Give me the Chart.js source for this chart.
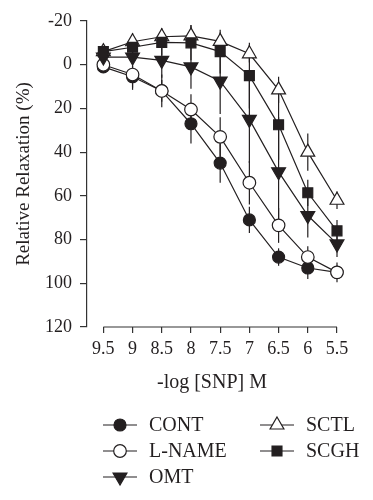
<!DOCTYPE html>
<html>
<head>
<meta charset="utf-8">
<script src="https://cdn.jsdelivr.net/npm/chart.js@4.4.0/dist/chart.umd.min.js"></script>
<style>
  html, body { margin: 0; padding: 0; background: #fff; }
  #wrap { width: 373px; height: 500px; }
</style>
</head>
<body>
<div id="wrap"><canvas id="relaxChart" width="373" height="500"></canvas></div>
<script>
// --- Data ---
const logSNP = [9.5, 9, 8.5, 8, 7.5, 7, 6.5, 6, 5.5];
const yTicks = [-20, 0, 20, 40, 60, 80, 100, 120];

const cont     = [1, 5.5, 12, 27, 45, 71, 88, 93, 95];
const contErr  = [1.5, 5, 5, 9, 9, 6, 4, 5, 3];
const lname    = [0, 4.5, 12, 20.5, 33, 54, 73.5, 88, 95];
const lnameErr = [2, 7, 7.5, 7, 9, 10, 8, 5, 4.5];
const omt      = [-3.5, -3.5, -2, 1, 7.5, 25, 49, 69, 82];
const omtErr   = [2, 3, 8, 10, 15, 20, 25, 10, 6];
const sctl     = [-6, -10.5, -12.8, -13.2, -10.7, -5, 11.5, 40, 62];
const sctlErr  = [2, 4, 4, 5, 4, 4, 6, 8.5, 4];
const scgh     = [-6, -8, -10.2, -10, -6, 5, 27.5, 58.6, 76];
const scghErr  = [2, 3, 6, 8, 10, 15, 16, 6, 5];

const INK = '#231f20';
const FONT = 'Liberation Serif, Times New Roman, serif';

function mkSet(label, vals, errs, style, order) {
    return Object.assign({
        label, order, errs,
        data: logSNP.map((x, i) => ({ x, y: vals[i] })),
        borderColor: INK, borderWidth: 1.2, tension: 0, clip: false,
        pointBorderColor: INK, pointBorderWidth: 1.2
    }, style);
}

const datasets = [
    mkSet('CONT', cont, contErr, { pointStyle: 'circle', pointRadius: 6, pointBackgroundColor: INK }, 4),
    mkSet('L-NAME', lname, lnameErr, { pointStyle: 'circle', pointRadius: 6.3, pointBackgroundColor: '#fff' }, 3),
    mkSet('OMT', omt, omtErr, { pointStyle: 'triangle', pointRotation: 180, pointRadius: 8, pointBackgroundColor: INK }, 2),
    mkSet('SCTL', sctl, sctlErr, { pointStyle: 'triangle', pointRadius: 8, pointBackgroundColor: '#fff' }, 1),
    mkSet('SCGH', scgh, scghErr, { pointStyle: 'rect', pointRadius: 7, pointBackgroundColor: INK }, 0)
];

// --- Plugins: error bars, detached x axis line, legend ---
const errorBars = {
    id: 'errorBars',
    beforeDatasetsDraw(chart) {
        const { ctx, scales: { x, y } } = chart;
        ctx.save();
        ctx.strokeStyle = INK; ctx.lineWidth = 1.2;
        chart.data.datasets.forEach(ds => {
            ds.data.forEach((p, i) => {
                const px = x.getPixelForValue(p.x);
                ctx.beginPath();
                ctx.moveTo(px, y.getPixelForValue(p.y - ds.errs[i]));
                ctx.lineTo(px, y.getPixelForValue(p.y + ds.errs[i]));
                ctx.stroke();
            });
        });
        ctx.restore();
    }
};

const xAxisLine = {
    id: 'xAxisLine',
    afterDraw(chart) {
        const { ctx, chartArea, scales: { x } } = chart;
        ctx.save();
        ctx.strokeStyle = '#333'; ctx.lineWidth = 1.2;
        ctx.beginPath();
        ctx.moveTo(x.getPixelForValue(logSNP[0]), chartArea.bottom);
        ctx.lineTo(x.getPixelForValue(logSNP[logSNP.length - 1]), chartArea.bottom);
        ctx.stroke();
        ctx.restore();
    }
};

const legendBox = {
    id: 'legendBox',
    afterDraw(chart) {
        const { ctx } = chart;
        const slots = { 'CONT': [120, 425], 'L-NAME': [120, 451], 'OMT': [120, 477], 'SCTL': [277, 425], 'SCGH': [277, 451] };
        ctx.save();
        ctx.font = '20px ' + FONT;
        ctx.textBaseline = 'middle';
        chart.data.datasets.forEach(ds => {
            const [cx, cy] = slots[ds.label];
            ctx.strokeStyle = INK; ctx.lineWidth = 1.2;
            ctx.beginPath(); ctx.moveTo(cx - 17, cy); ctx.lineTo(cx + 17, cy); ctx.stroke();
            ctx.fillStyle = ds.pointBackgroundColor;
            Chart.helpers.drawPoint(ctx, {
                pointStyle: ds.pointStyle, rotation: ds.pointRotation || 0,
                radius: ds.pointRadius, borderWidth: 1.2
            }, cx, cy);
            ctx.fillStyle = INK;
            ctx.fillText(ds.label, cx + 29, cy + 1);
        });
        ctx.restore();
    }
};

// --- Chart ---
Chart.defaults.font.family = FONT;
Chart.defaults.color = INK;

new Chart(document.getElementById('relaxChart').getContext('2d'), {
    type: 'line',
    data: { datasets },
    options: {
        responsive: false, animation: false,
        layout: { padding: { top: 21, right: 36, left: 0, bottom: 0 } },
        plugins: { legend: { display: false }, tooltip: { enabled: false } },
        scales: {
            x: {
                type: 'linear', reverse: true, min: 5.5, max: 9.78,
                afterFit: s => { s.height = 173; },
                afterBuildTicks: s => { s.ticks = logSNP.map(v => ({ value: v })); },
                border: { display: false },
                grid: { drawOnChartArea: false, tickLength: 6, color: '#333', lineWidth: 1.2 },
                ticks: { font: { size: 18 }, padding: 5, maxRotation: 0, autoSkip: false, callback: v => String(v) },
                title: { display: true, text: '-log [SNP] M', font: { size: 20 }, padding: { top: 0, bottom: 105 } }
            },
            y: {
                reverse: true, min: -20, max: 120,
                afterFit: s => { s.width = 87; },
                afterBuildTicks: s => { s.ticks = yTicks.map(v => ({ value: v })); },
                border: { display: true, color: '#333', width: 1.2 },
                grid: { drawOnChartArea: false, tickLength: 7, color: '#333', lineWidth: 1.2 },
                ticks: { font: { size: 18 }, padding: 8, callback: v => String(v) },
                title: { display: true, text: 'Relative Relaxation (%)', font: { size: 19 }, padding: { top: 13, bottom: 0 } }
            }
        }
    },
    plugins: [errorBars, xAxisLine, legendBox]
});
</script>
</body>
</html>
